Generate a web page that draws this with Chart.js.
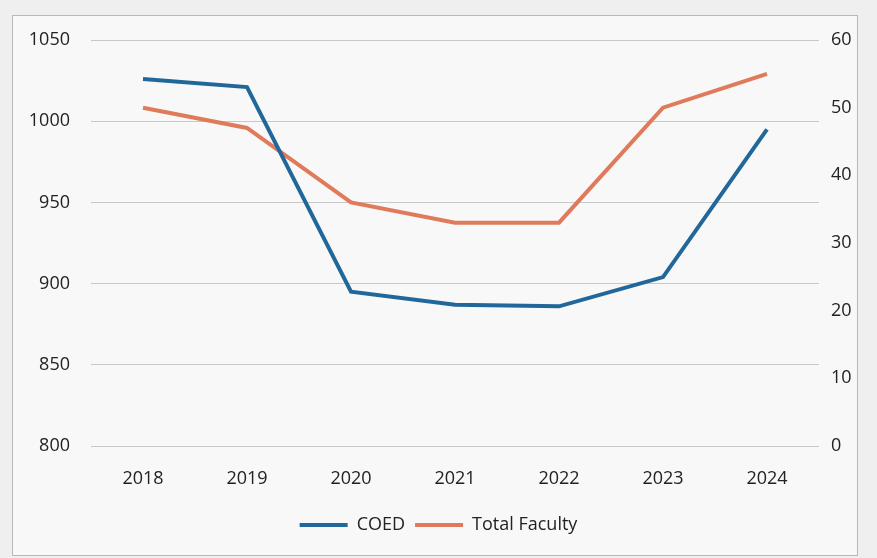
<!DOCTYPE html>
<html lang="en">
<head>
    <meta charset="UTF-8">
    <title>COED and Total Faculty</title>
    <script src="https://cdn.jsdelivr.net/npm/chart.js"></script>
    <style>
        html, body { margin: 0; padding: 0; background: #efefef; }
        canvas { display: block; }
    </style>
</head>
<body>
    <canvas id="lineChart" width="877" height="558"></canvas>

    <script>
        // values
        const years = ['2018', '2019', '2020', '2021', '2022', '2023', '2024'];
        const coed = [1026, 1021, 895, 887, 886, 904, 995];
        const totalFaculty = [50, 47, 36, 33, 33, 50, 55];
        const leftTicks = [800, 850, 900, 950, 1000, 1050];
        const rightTicks = [0, 10, 20, 30, 40, 50, 60];

        const blue = '#22679a';
        const orange = '#df7b5b';
        const font = { family: '"Open Sans", "Liberation Sans", sans-serif', size: 18 };

        // paper background + thin frame around the chart
        const frame = {
            id: 'frame',
            beforeDraw(chart) {
                const c = chart.ctx;
                c.save();
                c.fillStyle = '#efefef';
                c.fillRect(0, 0, chart.width, chart.height);
                c.fillStyle = '#f8f8f8';
                c.fillRect(12, 15, 845, 540);
                c.strokeStyle = '#b8b8b8';
                c.lineWidth = 1;
                c.strokeRect(12.5, 15.5, 845, 540);
                c.restore();
            }
        };

        const ctx = document.getElementById('lineChart').getContext('2d');
        new Chart(ctx, {
            type: 'line',
            data: {
                labels: years,
                datasets: [{
                    label: 'COED',
                    data: coed,
                    yAxisID: 'y',
                    borderColor: blue,
                    backgroundColor: blue,
                    borderWidth: 4,
                    pointRadius: 0,
                    tension: 0
                }, {
                    label: 'Total Faculty',
                    data: totalFaculty,
                    yAxisID: 'y1',
                    borderColor: orange,
                    backgroundColor: orange,
                    borderWidth: 4,
                    pointRadius: 0,
                    tension: 0
                }]
            },
            options: {
                responsive: false,
                animation: false,
                layout: { padding: { top: 40, left: 0, right: 0, bottom: 14 } },
                plugins: {
                    tooltip: { enabled: false },
                    legend: {
                        position: 'bottom',
                        labels: {
                            color: '#222',
                            font: font,
                            boxWidth: 48,
                            boxHeight: 4,
                            padding: 10,
                            generateLabels(chart) {
                                return Chart.defaults.plugins.legend.labels.generateLabels(chart)
                                    .map(l => Object.assign(l, { lineWidth: 0 }));
                            }
                        }
                    }
                },
                scales: {
                    x: {
                        offset: true,
                        grid: { display: false, offset: true },
                        border: { display: false },
                        ticks: { color: '#222', font: font, padding: 14, maxRotation: 0 },
                        afterFit(scale) { scale.height = 60; }
                    },
                    y: {
                        position: 'left',
                        min: 800,
                        max: 1050,
                        afterBuildTicks(scale) { scale.ticks = leftTicks.map(v => ({ value: v })); },
                        grid: { color: '#c8c8c8', lineWidth: 1, drawTicks: false },
                        border: { display: false },
                        ticks: { color: '#222', font: font, padding: 21, callback: v => String(v) },
                        afterFit(scale) { scale.width = 91; }
                    },
                    y1: {
                        position: 'right',
                        min: 0,
                        max: 60,
                        afterBuildTicks(scale) { scale.ticks = rightTicks.map(v => ({ value: v })); },
                        grid: { drawOnChartArea: false, drawTicks: false },
                        border: { display: false },
                        ticks: { color: '#222', font: font, padding: 12, callback: v => String(v) },
                        afterFit(scale) { scale.width = 58; }
                    }
                }
            },
            plugins: [frame]
        });
    </script>
</body>
</html>
